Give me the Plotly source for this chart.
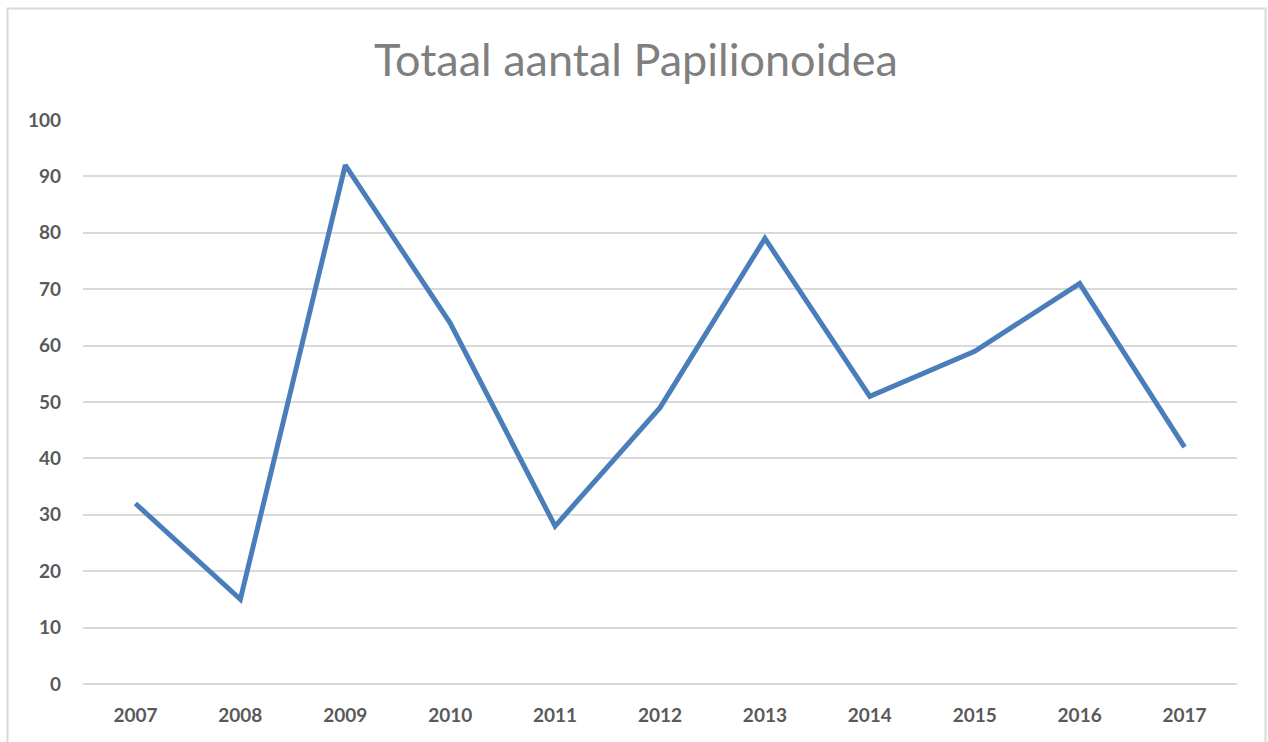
import plotly.graph_objects as go

years = ["2007", "2008", "2009", "2010", "2011", "2012", "2013", "2014", "2015", "2016", "2017"]
counts = [32, 15, 92, 64, 28, 49, 79, 51, 59, 71, 42]
y_ticks = [0, 10, 20, 30, 40, 50, 60, 70, 80, 90, 100]

W, H = 1268, 742
L, R, T, B = 83, 31, 120, 58
pw, ph = W - L - R, H - T - B

def px_x(x):
    return (x - L) / pw

def px_y(y):
    return (H - B - y) / ph

fig = go.Figure()
fig.add_trace(go.Scatter(
    x=years, y=counts, mode="lines",
    line=dict(color="#4a7ebb", width=5),
    hoverinfo="x+y",
))

tick_font = dict(family="Lato", size=19, color="#595959", weight="bold")

fig.update_layout(
    width=W, height=H,
    margin=dict(l=L, r=R, t=T, b=B),
    paper_bgcolor="white", plot_bgcolor="white",
    showlegend=False,
    title=dict(
        text="Totaal aantal Papilionoidea",
        x=0.5015, xanchor="center", y=1 - 60 / H, yanchor="middle",
        font=dict(family="Lato", size=45, color="#7f7f7f"),
    ),
    xaxis=dict(
        type="category", range=[-0.5, 10.5],
        showgrid=False, zeroline=False, showline=False,
        ticks="", ticklabelstandoff=18,
        tickfont=tick_font,
    ),
    yaxis=dict(
        range=[0, 100], tickvals=y_ticks,
        showgrid=True, gridcolor="#d9d9d9", gridwidth=1.5,
        zeroline=True, zerolinecolor="#d9d9d9", zerolinewidth=1.5,
        showline=False, ticks="",
        ticklabelstandoff=21,
        tickfont=tick_font,
    ),
    shapes=[dict(
        type="rect", xref="paper", yref="paper",
        x0=px_x(7.5), x1=px_x(1265.5), y0=px_y(760), y1=px_y(8.5),
        line=dict(color="#d9d9d9", width=2), fillcolor="rgba(0,0,0,0)",
        layer="below",
    )],
)

fig.write_html(
    "out.html",
    config={"displayModeBar": False},
    post_script="document.body.style.margin='0px';document.body.style.overflow='hidden';",
)
